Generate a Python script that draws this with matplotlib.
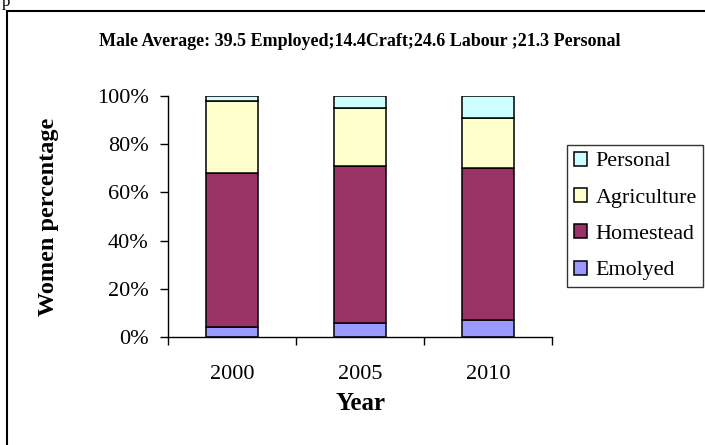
import numpy as np
import matplotlib.pyplot as plt
from matplotlib.patches import Rectangle

plt.rcParams['font.family'] = ['Liberation Serif', 'DejaVu Serif']

# data (percent of women by sector)
years = ['2000', '2005', '2010']
emolyed = [4, 6, 7]
homestead = [64, 65, 63]
agriculture = [30, 24, 21]
personal = [2, 5, 9]

series = [('Emolyed', emolyed, '#9999FF'),
          ('Homestead', homestead, '#993366'),
          ('Agriculture', agriculture, '#FFFFCC'),
          ('Personal', personal, '#CCFFFF')]

fig = plt.figure(figsize=(7.05, 4.45), dpi=100)
ax = fig.add_axes([168 / 705, 1 - 337 / 445, 384 / 705, 241 / 445])

x = np.arange(len(years))
bottom = np.zeros(len(years))
handles = []
for name, vals, col in series:
    b = ax.bar(x, vals, 0.4, bottom=bottom, color=col, edgecolor='black',
               linewidth=1.1, label=name)
    bottom += np.array(vals)
    handles.append(b)

ax.set_xlim(-0.5, 2.5)
ax.set_ylim(0, 100)
ax.set_yticks(np.arange(0, 101, 20))
ax.set_yticklabels([f'{v}%' for v in range(0, 101, 20)], fontsize=16)
ax.set_xticks(x)
ax.set_xticklabels(years, fontsize=16)
ax.set_xticks([-0.5, 0.5, 1.5, 2.5], minor=True)
ax.tick_params(axis='x', which='major', length=0, pad=20)
ax.tick_params(axis='x', which='minor', length=6, width=1, direction='out')
ax.tick_params(axis='y', length=6, width=1, direction='out', pad=8)
for s in ['top', 'right']:
    ax.spines[s].set_visible(False)
ax.spines['left'].set_linewidth(1)
ax.spines['bottom'].set_linewidth(1)

ax.set_ylabel('Women percentage', fontsize=17.5, fontweight='bold', labelpad=27)
ax.set_xlabel('Year', fontsize=18, fontweight='bold', labelpad=6)

fig.text(360 / 705, 1 - 41 / 445,
         'Male Average: 39.5 Employed;14.4Craft;24.6 Labour ;21.3 Personal',
         ha='center', va='center', fontsize=13, fontweight='bold')

leg = ax.legend(handles[::-1], [s[0] for s in series][::-1],
                loc='upper left', bbox_to_anchor=(567 / 705, 1 - 145 / 445),
                bbox_transform=fig.transFigure, fontsize=15.8, frameon=True,
                fancybox=False, handlelength=0.6, handleheight=0.6,
                handletextpad=0.4, labelspacing=0.76, borderpad=0.3,
                borderaxespad=0)
leg.get_frame().set_edgecolor('black')
leg.get_frame().set_linewidth(1)

# outer chart border (right and bottom edges are cut off)
fig.patches.append(Rectangle((7 / 705, -0.02), 1.0, 1 - 11 / 445 + 0.02,
                             transform=fig.transFigure, fill=False,
                             edgecolor='black', linewidth=1.5))
fig.text(0.003, 0.995, 'p', ha='left', va='center', fontsize=12)

fig.savefig('out.png', dpi=100)
